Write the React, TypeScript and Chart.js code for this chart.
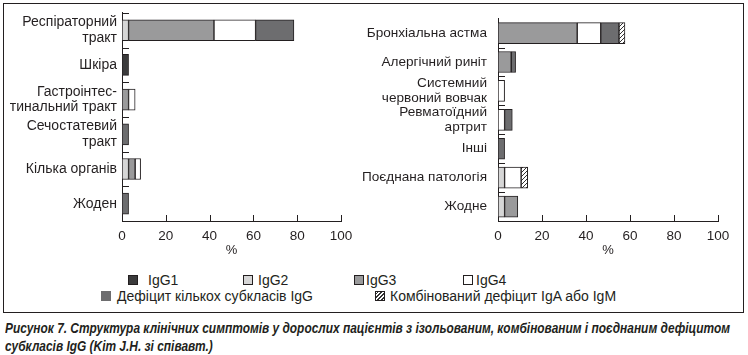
import React, { useEffect, useRef } from "react";
import { Chart, registerables } from "chart.js";

Chart.register(...registerables);

// ---------- data ----------
const seriesNames = [
  "IgG1",
  "IgG2",
  "IgG3",
  "IgG4",
  "Дефіцит кількох субкласів IgG",
  "Комбінований дефіцит IgA або IgM",
];

const leftCategories = [
  ["Респіраторний", "тракт"],
  "Шкіра",
  ["Гастроінтес-", "тинальний тракт"],
  ["Сечостатевий", "тракт"],
  "Кілька органів",
  "Жоден",
];
const leftIgG1 = [0, 3, 0, 0, 0, 0];
const leftIgG2 = [3, 0, 0, 0, 3, 0];
const leftIgG3 = [39, 0, 3, 0, 3, 0];
const leftIgG4 = [19, 0, 3, 0, 2.5, 0];
const leftMulti = [17.5, 0, 0, 3, 0, 3];
const leftCombined = [0, 0, 0, 0, 0, 0];

const rightCategories = [
  "Бронхіальна астма",
  "Алергічний риніт",
  ["Системний", "червоний вовчак"],
  ["Ревматоїдний", "артрит"],
  "Інші",
  "Поєднана патологія",
  "Жодне",
];
const rightIgG1 = [0, 0, 0, 0, 0, 0, 0];
const rightIgG2 = [0, 0, 0, 0, 0, 3, 3];
const rightIgG3 = [36, 6, 0, 0, 0, 0, 6];
const rightIgG4 = [10.7, 0, 3, 3, 0, 7.5, 0];
const rightMulti = [8.3, 2, 0, 3.5, 3, 0, 0];
const rightCombined = [2.7, 0, 0, 0, 0, 3, 0];

const xTickValues = [0, 20, 40, 60, 80, 100];
const axisTitle = "%";

const captionLine1 =
  "Рисунок 7. Структура клінічних симптомів у дорослих пацієнтів з ізольованим, комбінованим і поєднаним дефіцитом";
const captionLine2 = "субкласів IgG (Kim J.H. зі співавт.)";

// ---------- styles ----------
const INK = "#231f20";
const solidColors = ["#3b3b3c", "#d6d6d6", "#9a9a9b", "#ffffff", "#6d6d6f"];
const FONT = "'Liberation Sans', Arial, sans-serif";

function makeHatch(): CanvasPattern | string {
  const c = document.createElement("canvas");
  c.width = 4;
  c.height = 4;
  const g = c.getContext("2d");
  if (!g) return "#aaa";
  g.fillStyle = "#fff";
  g.fillRect(0, 0, 4, 4);
  g.strokeStyle = "#333";
  g.lineWidth = 1;
  g.beginPath();
  g.moveTo(0, 4);
  g.lineTo(4, 0);
  g.moveTo(-1, 1);
  g.lineTo(1, -1);
  g.moveTo(3, 5);
  g.lineTo(5, 3);
  g.stroke();
  const p = g.createPattern(c, "repeat");
  return p || "#aaa";
}

const inwardTicks = {
  id: "inwardTicks",
  afterDatasetsDraw(chart: any, _args: any, opts: any) {
    const { ctx } = chart;
    const x = chart.scales.x;
    const y = chart.scales.y;
    ctx.save();
    ctx.strokeStyle = INK;
    ctx.lineWidth = 1;
    x.ticks.forEach((t: any) => {
      if (t.value === 0) return;
      const px = Math.round(x.getPixelForValue(t.value)) + 0.5;
      ctx.beginPath();
      ctx.moveTo(px, y.bottom);
      ctx.lineTo(px, y.bottom - 6);
      ctx.stroke();
    });
    const n = y.ticks.length;
    const band = (y.bottom - y.top) / n;
    for (let k = opts.topTick ? 0 : 1; k < n; k++) {
      const py = Math.round(y.top + k * band) + 0.5;
      ctx.beginPath();
      ctx.moveTo(y.right, py);
      ctx.lineTo(y.right + 7, py);
      ctx.stroke();
    }
    ctx.restore();
  },
};

function buildDatasets(series: number[][], hatch: any) {
  return series.map((arr, i) => ({
    label: seriesNames[i],
    data: arr.map((v) => (v ? v : null)),
    backgroundColor: i < 5 ? solidColors[i] : hatch,
    borderColor: INK,
    borderWidth: 1,
    borderSkipped: false,
    barThickness: 21,
  }));
}

function makeConfig(
  categories: any[],
  series: number[][],
  hatch: any,
  yWidth: number,
  labelPad: number,
  labelSize: number,
  pad: any,
  topTick: boolean
): any {
  return {
    type: "bar",
    data: { labels: categories, datasets: buildDatasets(series, hatch) },
    plugins: [inwardTicks],
    options: {
      indexAxis: "y",
      responsive: false,
      animation: false,
      layout: { padding: pad },
      plugins: {
        legend: { display: false },
        tooltip: { enabled: false },
        inwardTicks: { topTick },
      },
      scales: {
        x: {
          stacked: true,
          min: 0,
          max: 100,
          afterBuildTicks: (s: any) => {
            s.ticks = xTickValues.map((v) => ({ value: v }));
          },
          grid: { display: false, drawTicks: false },
          border: { display: true, color: INK, width: 1 },
          ticks: {
            color: INK,
            padding: 7,
            font: { family: FONT, size: 13.5 },
            maxRotation: 0,
            autoSkip: false,
          },
          title: {
            display: true,
            text: axisTitle,
            color: INK,
            padding: 0,
            font: { family: FONT, size: 13 },
          },
          afterFit: (s: any) => {
            s.height = 37;
          },
        },
        y: {
          stacked: true,
          grid: { display: false, drawTicks: false },
          border: { display: true, color: INK, width: 1 },
          ticks: {
            color: INK,
            padding: labelPad,
            autoSkip: false,
            font: { family: FONT, size: labelSize, lineHeight: 1.13 },
          },
          afterFit: (s: any) => {
            s.width = yWidth;
          },
        },
      },
    },
  };
}

const legendLayout = [
  { sx: 128, tx: 148, y: 280 },
  { sx: 243, tx: 258, y: 280 },
  { sx: 354, tx: 366, y: 280 },
  { sx: 463, tx: 476, y: 280 },
  { sx: 101, tx: 117, y: 296 },
  { sx: 375, tx: 390, y: 296 },
];

function swatchStyle(i: number): React.CSSProperties {
  const base: React.CSSProperties = {
    position: "absolute",
    width: 10,
    height: 10,
    boxSizing: "border-box",
  };
  if (i === 4) return { ...base, background: solidColors[4] };
  if (i === 5)
    return {
      ...base,
      border: `1px solid ${INK}`,
      background:
        "repeating-linear-gradient(-45deg, #fff 0px, #fff 1.4px, #333 1.4px, #333 2.6px)",
    };
  return { ...base, border: `1px solid ${INK}`, background: solidColors[i] };
}

const CAPTION_WIDTH = 725;

export default function App() {
  const leftRef = useRef<HTMLCanvasElement>(null);
  const rightRef = useRef<HTMLCanvasElement>(null);
  const capRef = useRef<HTMLDivElement>(null);

  useEffect(() => {
    let cancelled = false;
    let charts: Chart[] = [];
    const fontsReady = (document as any).fonts
      ? Promise.all([
          (document as any).fonts.load("14px 'Liberation Sans'"),
          (document as any).fonts.load("bold italic 14px 'Liberation Sans'"),
        ]).catch(() => null)
      : Promise.resolve(null);
    fontsReady.then(() => {
      if (cancelled) return;
      const cap = capRef.current;
      if (cap) {
        const first = cap.firstElementChild as HTMLElement;
        const w = first ? first.getBoundingClientRect().width : 0;
        if (w > 0) {
          cap.style.transform = `scaleX(${CAPTION_WIDTH / w})`;
        }
      }
      const hatch = makeHatch();
      charts.push(
        new Chart(
          leftRef.current as HTMLCanvasElement,
          makeConfig(
            leftCategories,
            [leftIgG1, leftIgG2, leftIgG3, leftIgG4, leftMulti, leftCombined],
            hatch,
            122,
            5,
            14,
            { top: 10, right: 19, left: 0, bottom: 0 },
            true
          )
        )
      );
      charts.push(
        new Chart(
          rightRef.current as HTMLCanvasElement,
          makeConfig(
            rightCategories,
            [rightIgG1, rightIgG2, rightIgG3, rightIgG4, rightMulti, rightCombined],
            hatch,
            148,
            11,
            13.6,
            { top: 11, right: 30, left: 0, bottom: 0 },
            false
          )
        )
      );
    });
    return () => {
      cancelled = true;
      charts.forEach((c) => c.destroy());
      charts = [];
    };
  }, []);

  return (
    <div
      style={{
        position: "fixed",
        left: 0,
        top: 0,
        width: 748,
        height: 355,
        background: "#fff",
        overflow: "hidden",
        fontFamily: FONT,
        color: INK,
      }}
    >
      <div
        style={{
          position: "absolute",
          left: 3,
          top: 3,
          width: 741,
          height: 310,
          border: `1px solid ${INK}`,
          boxSizing: "border-box",
        }}
      />
      <canvas
        ref={leftRef}
        width={360}
        height={258}
        style={{ position: "absolute", left: 0, top: 0, width: 360, height: 258 }}
      />
      <canvas
        ref={rightRef}
        width={398}
        height={258}
        style={{ position: "absolute", left: 350, top: 0, width: 398, height: 258 }}
      />
      {seriesNames.map((name, i) => {
        const L = legendLayout[i];
        return (
          <React.Fragment key={name}>
            <div style={{ ...swatchStyle(i), left: L.sx, top: L.y - 5 }} />
            <div
              style={{
                position: "absolute",
                left: L.tx,
                top: L.y - 9,
                height: 18,
                lineHeight: "18px",
                fontSize: 14,
                whiteSpace: "nowrap",
              }}
            >
              {name}
            </div>
          </React.Fragment>
        );
      })}
      <div
        ref={capRef}
        style={{
          position: "absolute",
          left: 5,
          top: 319,
          transformOrigin: "0 0",
          fontFamily: FONT,
          fontWeight: "bold",
          fontStyle: "italic",
          fontSize: 14,
          lineHeight: "18px",
          whiteSpace: "nowrap",
        }}
      >
        <div style={{ display: "inline-block" }}>{captionLine1}</div>
        <div>{captionLine2}</div>
      </div>
    </div>
  );
}
